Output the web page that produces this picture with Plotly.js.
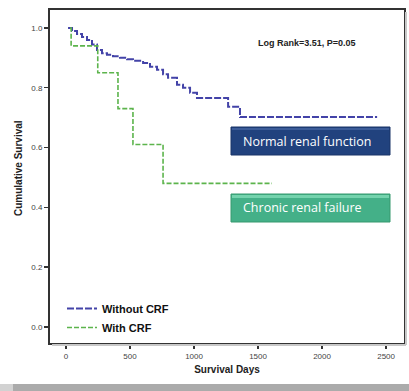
<!DOCTYPE html>
<html>
<head>
<meta charset="utf-8">
<script src="https://cdn.plot.ly/plotly-3.0.1.min.js"></script>
<style>
  html, body { margin: 0; padding: 0; background: #ffffff; }
  #chart { width: 409px; height: 391px; }
</style>
</head>
<body>
<div id="chart"></div>
<script>
// Kaplan-Meier survival, patients without / with chronic renal failure
const blueDays = [16, 47, 86, 125, 164, 203, 242, 281, 320, 367, 422, 477, 523, 602, 656, 711, 758, 797, 867, 914, 969, 1023, 1266, 1359, 2430];
const blueSurv = [1.0, 0.99, 0.98, 0.97, 0.96, 0.945, 0.926, 0.915, 0.91, 0.905, 0.90, 0.895, 0.89, 0.883, 0.87, 0.86, 0.845, 0.833, 0.81, 0.80, 0.783, 0.766, 0.736, 0.702, 0.702];

const greenDays = [31, 40, 248, 406, 523, 758, 1609];
const greenSurv = [1.0, 0.94, 0.85, 0.73, 0.61, 0.48, 0.48];

const xTicks = [0, 500, 1000, 1500, 2000, 2500];
const yTicks = [0.0, 0.2, 0.4, 0.6, 0.8, 1.0];
const yTickText = ['0.0', '0.2', '0.4', '0.6', '0.8', '1.0'];

const groupNames = ['Without CRF', 'With CRF'];
const statText = 'Log Rank=3.51, P=0.05';
const boxLabels = ['Normal renal function', 'Chronic renal failure'];

const W = 409, H = 391;
const M = { l: 50, r: 5, t: 10, b: 48 };
const PW = W - M.l - M.r, PH = H - M.t - M.b;
// pixel helpers for decorations placed in paper space
const px = x => (x - M.l) / PW;
const py = y => (H - M.b - y) / PH;

const traces = [
  {
    x: blueDays, y: blueSurv, name: groupNames[0], mode: 'lines',
    line: { shape: 'hv', color: '#4343a8', width: 2, dash: '7px,2px' },
    hoverinfo: 'skip'
  },
  {
    x: greenDays, y: greenSurv, name: groupNames[1], mode: 'lines',
    line: { shape: 'hv', color: '#5cb44c', width: 1.6, dash: '5px,2px' },
    hoverinfo: 'skip'
  }
];

const layout = {
  width: W, height: H,
  margin: M,
  paper_bgcolor: '#ffffff',
  plot_bgcolor: '#ffffff',
  font: { family: 'Liberation Sans, Arial, sans-serif', color: '#222' },
  showlegend: true,
  legend: {
    x: px(62), y: py(294), xanchor: 'left', yanchor: 'top',
    bgcolor: 'rgba(0,0,0,0)',
    font: { size: 11, color: '#111', family: 'Liberation Sans, Arial, sans-serif', weight: 'bold' },
    tracegroupgap: 0, itemwidth: 30, traceorder: 'normal'
  },
  xaxis: {
    range: [-125, 2640],
    tickvals: xTicks, ticktext: xTicks.map(String),
    ticks: 'outside', ticklen: 4, tickwidth: 1.5, tickcolor: '#333',
    tickfont: { size: 8, color: '#444' },
    showgrid: false, zeroline: false,
    showline: true, mirror: true, linecolor: '#333', linewidth: 2,
    title: { text: '<b>Survival Days</b>', font: { size: 10, color: '#222' }, standoff: 6 }
  },
  yaxis: {
    range: [-0.054, 1.06],
    tickvals: yTicks, ticktext: yTickText,
    ticks: 'outside', ticklen: 4, tickwidth: 1.5, tickcolor: '#333',
    tickfont: { size: 8, color: '#444' },
    showgrid: false, zeroline: false,
    showline: true, mirror: true, linecolor: '#333', linewidth: 2
  },
  shapes: [
    // soft shadow along the frame
    { type: 'line', xref: 'paper', yref: 'paper', x0: px(406), x1: px(406), y0: py(12), y1: py(345),
      line: { color: '#c8c8c8', width: 2 } },
    { type: 'line', xref: 'paper', yref: 'paper', x0: px(52), x1: px(406), y0: py(345), y1: py(345),
      line: { color: '#c8c8c8', width: 2 } },
    // label boxes
    { type: 'rect', xref: 'paper', yref: 'paper', x0: px(231), x1: px(390), y0: py(155), y1: py(127),
      fillcolor: '#21427e', line: { color: '#1a3468', width: 1 } },
    { type: 'rect', xref: 'paper', yref: 'paper', x0: px(232), x1: px(389), y0: py(130), y1: py(128),
      fillcolor: '#3b5b98', line: { width: 0 } },
    { type: 'rect', xref: 'paper', yref: 'paper', x0: px(231), x1: px(390), y0: py(222), y1: py(194),
      fillcolor: '#44b088', line: { color: '#36996f', width: 1 } },
    { type: 'rect', xref: 'paper', yref: 'paper', x0: px(232), x1: px(389), y0: py(198), y1: py(195),
      fillcolor: '#74d3ad', line: { width: 0 } },
    // strip along the lower edge
    { type: 'rect', xref: 'paper', yref: 'paper', x0: px(0), x1: px(13), y0: py(391), y1: py(384),
      fillcolor: '#d2d2d2', line: { width: 0 } },
    { type: 'rect', xref: 'paper', yref: 'paper', x0: px(13), x1: px(409), y0: py(391), y1: py(384),
      fillcolor: '#ababab', line: { width: 0 } }
  ],
  annotations: [
    { xref: 'paper', yref: 'paper', x: px(307), y: py(43), xanchor: 'center', yanchor: 'middle',
      text: '<b>' + statText + '</b>', showarrow: false,
      font: { size: 9, color: '#222', family: 'Liberation Sans, Arial, sans-serif' } },
    { xref: 'paper', yref: 'paper', x: px(241), y: py(141), xanchor: 'left', yanchor: 'middle',
      text: boxLabels[0], showarrow: false,
      font: { size: 12.5, color: '#ffffff', family: 'Open Sans, Lato, sans-serif' } },
    { xref: 'paper', yref: 'paper', x: px(241), y: py(208), xanchor: 'left', yanchor: 'middle',
      text: boxLabels[1], showarrow: false,
      font: { size: 12.5, color: '#ffffff', family: 'Open Sans, Lato, sans-serif' } },
    { xref: 'paper', yref: 'paper', x: px(18), y: py(168), xanchor: 'center', yanchor: 'middle',
      text: '<b>Cumulative Survival</b>', showarrow: false, textangle: -90,
      font: { size: 10, color: '#222', family: 'Liberation Sans, Arial, sans-serif' } }
  ]
};

Plotly.newPlot('chart', traces, layout, { staticPlot: true, displayModeBar: false });
</script>
</body>
</html>
